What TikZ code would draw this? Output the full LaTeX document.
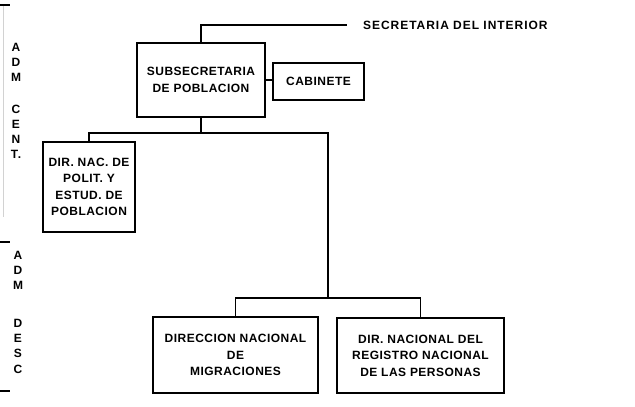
\documentclass[tikz,border=0pt]{standalone}
\usepackage{fontspec}
\setmainfont{Liberation Sans}
\usepackage{tikz}
\usetikzlibrary{calc}

\begin{document}
\begin{tikzpicture}[x=1pt,y=-1pt,
                    box/.style={draw,line width=1.6pt,align=center,inner sep=0pt,
                                font=\bfseries\fontsize{12}{16.5}\selectfont\addfontfeature{LetterSpace=4}},
                    link/.style={line width=1.6pt},
                    lbl/.style={font=\bfseries\fontsize{12}{12}\selectfont\addfontfeature{LetterSpace=8},inner sep=0pt}]

                    \useasboundingbox (0,0) rectangle (635,407);

                    % cajas
                    \node[box,minimum width=128pt,minimum height=74pt] (sub) at (201,80)
                        {SUBSECRETARIA\\DE POBLACION};
                    \node[box,minimum width=91pt,minimum height=37pt] (cab) at (318.5,81.5) {CABINETE};
                    \node[box,minimum width=92pt,minimum height=90pt] (dir) at (89,187)
                        {DIR. NAC. DE\\POLIT. Y\\ESTUD. DE\\POBLACION};
                    \node[box,minimum width=165pt,minimum height=76pt] (mig) at (235.5,355)
                        {DIRECCION NACIONAL\\DE\\MIGRACIONES};
                    \node[box,minimum width=167pt,minimum height=75pt] (reg) at (420.5,355.5)
                        {DIR. NACIONAL DEL\\REGISTRO NACIONAL\\DE LAS PERSONAS};
                    \node[lbl,anchor=west] (sec) at (363,25) {SECRETARIA DEL INTERIOR};

                    \coordinate (j1) at (201,133);
                    \coordinate (j2) at (328,298);

                    % lineas
                    \draw[link] (sub.north) |- ([xshift=-16pt]sec.west);
                    \draw[link] (sub.east) -- (sub.east -| cab.west);
                    \draw[link] (sub.south) -- (j1);
                    \draw[link] (dir.north) |- (j1) -| (j2);
                    \draw[link] (mig.north) |- (j2) -| (reg.north);

                    % margen izquierdo
                    \draw[gray!35,line width=0.5pt] (3,5) -- (3,217);
                    \foreach \y in {5,242,391}
                    \draw[line width=1.6pt] (0,\y) -- (10,\y);

                    \foreach \l/\y [count=\i] in {A/47,D/62,M/77,C/109,E/124,N/139,T./154}
                    \node[lbl] (cent\i) at (16,\y) {\l};

                    \foreach \l/\y [count=\i] in {A/255,D/270,M/285,D/323,E/338,S/353,C/369}
                    \node[lbl] (desc\i) at (18,\y) {\l};
                \end{tikzpicture}
\end{document}
